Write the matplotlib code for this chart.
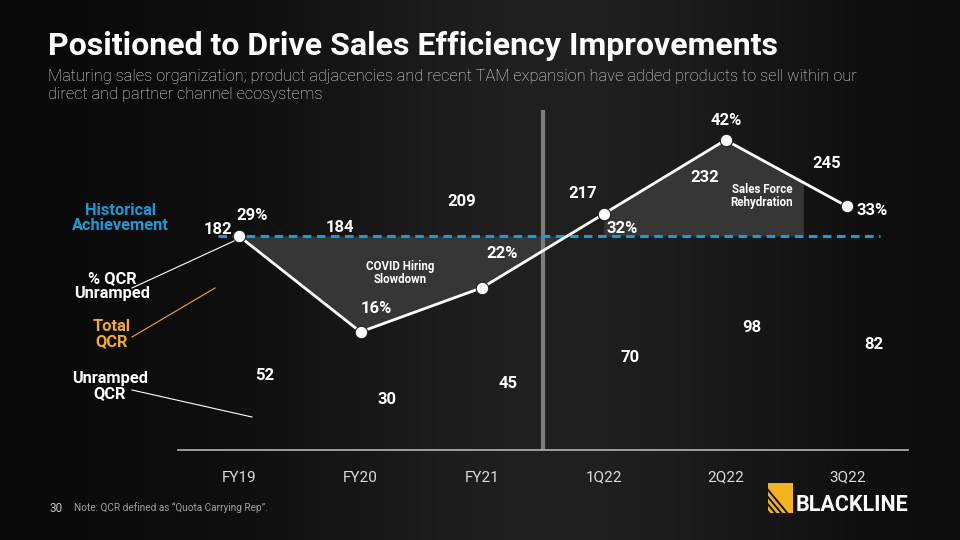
import numpy as np
import matplotlib
matplotlib.use("Agg")
import matplotlib.pyplot as plt
from matplotlib.patches import Rectangle, Polygon

plt.rcParams['font.family'] = ['Roboto', 'DejaVu Sans']

# data
periods = ['FY19', 'FY20', 'FY21', '1Q22', '2Q22', '3Q22']
total_qcr = [182, 184, 209, 217, 232, 245]
unramped_qcr = [52, 30, 45, 70, 98, 82]
pct_unramped = [29, 16, 22, 32, 42, 33]
historical_pct = 29

# label placement (pixels) for the % labels
pct_offsets = [(13, 20), (16, 23), (20, 34), (18, -15), (1, 20), (25, -4)]

WHITE = '#ffffff'
BLUE = '#1a9ad6'
ORANGE = '#f2a92c'
SHADE = '#363636'

fig = plt.figure(figsize=(9.6, 5.4), dpi=100)

# background gradient
bg = fig.add_axes([0, 0, 1, 1], zorder=0)
yy = np.linspace(0, 1, 300)
col = 10 + 22 * np.exp(-((yy - 0.58) / 0.28) ** 2)
img = np.dstack([col, col, col]) / 255.0
img = np.repeat(img, 2, axis=1)
bg.imshow(img, aspect='auto', extent=[0, 1, 0, 1], origin='upper')
bg.axis('off')

W, H = 960, 540
left, right, top, bottom = 178, 908, 110, 450
ax = fig.add_axes([left / W, (H - bottom) / H, (right - left) / W, (bottom - top) / H], zorder=1)
ax.patch.set_alpha(0)
x = np.arange(len(periods))
ax.set_xlim(-0.5, 5.5)
ax.set_ylim(0, (bottom - top) / 7.38)

for s in ['top', 'right', 'left']:
    ax.spines[s].set_visible(False)
ax.spines['bottom'].set_color('#a8a8a8')
ax.spines['bottom'].set_linewidth(1.3)
ax.set_yticks([])
ax.set_xticks(x)
ax.set_xticklabels(periods, color='#dcdcdc', fontsize=11, fontweight='normal')
ax.tick_params(axis='x', length=0, pad=15)

# shaded regions vs historical achievement
xd = np.linspace(0, 3, 400)
yd = np.interp(xd, x, pct_unramped)
ax.fill_between(xd, yd, historical_pct, where=yd <= historical_pct, interpolate=True,
                color=SHADE, lw=0, zorder=1)
xd2 = np.linspace(3, 4.64, 300)
yd2 = np.interp(xd2, x, pct_unramped)
ax.fill_between(xd2, yd2, historical_pct, color=SHADE, lw=0, zorder=1)

ax.axvline(2.5, color='#7d7d7d', lw=3, zorder=2)
ax.plot([-0.17, 5.27], [historical_pct, historical_pct], color=BLUE, lw=2.2,
        dashes=(2.8, 1.8), zorder=3)
ax.plot(x, pct_unramped, color=WHITE, lw=2, marker='o', ms=9,
        mfc=WHITE, mec='#1a1a1a', mew=0.8, zorder=4)

for i, p in enumerate(pct_unramped):
    dx, dy = pct_offsets[i]
    ax.annotate(f'{p}%', xy=(i, p), xytext=(dx * 0.72, dy * 0.72),
                textcoords='offset points', ha='center', va='center',
                color=WHITE, fontsize=12, fontweight='bold', zorder=5)

# QCR counts, on their own scale
ax2 = ax.twinx()
ax2.set_zorder(2)
ax2.patch.set_alpha(0)
ax2.set_ylim(0, (bottom - top) / 1.05)
ax2.axis('off')
for i, v in enumerate(total_qcr):
    ax2.annotate(str(v), xy=(i - 0.17, v), xytext=(0, 29 * 0.72), textcoords='offset points',
                 ha='center', va='center', color=WHITE, fontsize=12, fontweight='bold')
for i, v in enumerate(unramped_qcr):
    ax2.annotate(str(v), xy=(i + 0.215, v), xytext=(0, 19.5 * 0.72), textcoords='offset points',
                 ha='center', va='center', color=WHITE, fontsize=12, fontweight='bold')

# overlay in pixel coordinates for slide text
ov = fig.add_axes([0, 0, 1, 1], zorder=5)
ov.set_xlim(0, W)
ov.set_ylim(H, 0)
ov.axis('off')
ov.patch.set_alpha(0)

ov.text(48, 46, 'Positioned to Drive Sales Efficiency Improvements', color=WHITE,
        fontsize=23, fontweight='bold', va='center', ha='left')
ov.text(48, 86, 'Maturing sales organization; product adjacencies and recent TAM expansion have added products to sell within our\n'
        'direct and partner channel ecosystems', color='#ececec', fontsize=11.8, fontweight='light',
        va='center', ha='left', linespacing=1.25)

ov.text(120, 218, 'Historical\nAchievement', color=BLUE, fontsize=11.8, fontweight='bold',
        ha='center', va='center', linespacing=1.05)
ov.text(112, 286, '% QCR\nUnramped', color=WHITE, fontsize=11.8, fontweight='bold',
        ha='center', va='center', linespacing=1.05)
ov.text(112, 334, 'Total\nQCR', color=ORANGE, fontsize=11.8, fontweight='bold',
        ha='center', va='center', linespacing=1.05)
ov.text(110, 386, 'Unramped\nQCR', color=WHITE, fontsize=11.8, fontweight='bold',
        ha='center', va='center', linespacing=1.05)
ov.plot([132, 234], [288, 241], color=WHITE, lw=0.8)
ov.plot([132, 215], [337, 288], color=ORANGE, lw=0.8)
ov.plot([132, 252], [390, 417], color=WHITE, lw=0.8)

ov.text(400, 273, 'COVID Hiring\nSlowdown', color=WHITE, fontsize=8.3, fontweight='bold',
        ha='center', va='center', linespacing=1.0)
ov.text(762, 196, 'Sales Force\nRehydration', color=WHITE, fontsize=8.3, fontweight='bold',
        ha='center', va='center', linespacing=1.0)

ov.text(49, 508, '30', color='#c8c8c8', fontsize=8.5, va='center', ha='left')
ov.text(74, 508, 'Note: QCR defined as \u201cQuota Carrying Rep\u201d.', color='#a0a0a0',
        fontsize=7.2, va='center', ha='left')

# logo
ov.add_patch(Rectangle((768, 483), 25, 30, color='#f5b320', lw=0))
for k in range(4):
    x0 = 768 + k * 6
    ov.add_patch(Polygon([[x0, 513], [x0 + 2.5, 513], [768, 513 - (k * 6 + 2.5) * 1.2],
                          [768, 513 - k * 6 * 1.2]], closed=True, color='#111111', lw=0))
ov.text(796, 505, 'BLACKLINE', color=WHITE, fontsize=15.5, fontweight='bold',
        va='center', ha='left')

fig.savefig('out.png', dpi=100, facecolor='#0b0b0b')
